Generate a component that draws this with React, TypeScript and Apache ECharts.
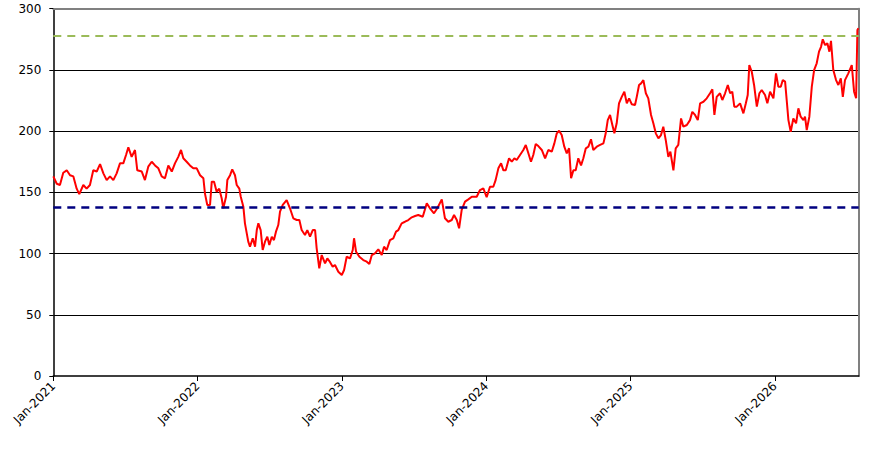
import React, { useEffect, useRef } from "react";
import * as echarts from "echarts";

const startYear = 2021;
const endYear = 2026.581;

const yearTicks = [2021, 2022, 2023, 2024, 2025, 2026];
const yTicks = [0, 50, 100, 150, 200, 250, 300];

const upperLevel = 278;
const lowerLevel = 138;

const yearsSince2021 = [
  0.0, 0.024, 0.046, 0.069, 0.093, 0.116, 0.139, 0.162, 0.18, 0.208, 0.231, 0.254, 0.277, 0.301, 0.324, 0.347,
  0.37, 0.393, 0.416, 0.439, 0.462, 0.485, 0.504, 0.52, 0.543, 0.566, 0.582, 0.613, 0.635, 0.658, 0.682, 0.705,
  0.728, 0.751, 0.774, 0.797, 0.821, 0.843, 0.866, 0.885, 0.901, 0.924, 0.947, 0.97, 0.994, 1.017,
  1.04, 1.051, 1.067, 1.086, 1.098, 1.114, 1.132, 1.15, 1.167, 1.178, 1.197, 1.206, 1.225, 1.24, 1.259, 1.271,
  1.289, 1.299, 1.317, 1.328, 1.351, 1.363, 1.382, 1.398, 1.41, 1.421, 1.437, 1.451, 1.467, 1.483, 1.497, 1.514,
  1.529, 1.543, 1.559, 1.571, 1.59, 1.617, 1.64, 1.663, 1.687, 1.705, 1.721, 1.744, 1.76, 1.779, 1.798, 1.814,
  1.825, 1.843, 1.86, 1.883, 1.899, 1.918, 1.936, 1.952, 1.975,
  1.999, 2.015, 2.033, 2.056, 2.075, 2.084, 2.098, 2.121, 2.148, 2.172, 2.19, 2.207, 2.229, 2.252, 2.276, 2.292,
  2.31, 2.333, 2.356, 2.375, 2.391, 2.414, 2.437, 2.46, 2.484, 2.507, 2.529, 2.56, 2.588, 2.61, 2.638, 2.661,
  2.692, 2.714, 2.737, 2.761, 2.777, 2.796, 2.812, 2.83, 2.853, 2.876, 2.9, 2.934, 2.957, 2.98, 3.003, 3.026,
  3.049, 3.065, 3.084, 3.103, 3.119, 3.135, 3.158, 3.177, 3.195, 3.211, 3.234, 3.257, 3.274, 3.292, 3.31, 3.326,
  3.343, 3.361, 3.385, 3.408, 3.43, 3.454, 3.472, 3.489, 3.505, 3.523, 3.541, 3.558, 3.574, 3.588, 3.604, 3.62,
  3.638, 3.657, 3.673, 3.69, 3.708, 3.726, 3.742, 3.766, 3.789, 3.812, 3.828, 3.842, 3.858, 3.874, 3.888, 3.904,
  3.92, 3.939, 3.957, 3.974, 3.99, 4.008, 4.031,
  4.043, 4.059, 4.073, 4.089, 4.106, 4.123, 4.142, 4.158, 4.175, 4.193, 4.211, 4.227, 4.244, 4.262, 4.276, 4.297,
  4.313, 4.331, 4.35, 4.366, 4.39, 4.412, 4.428, 4.447, 4.466, 4.482, 4.505, 4.528, 4.551, 4.567, 4.581, 4.597,
  4.62, 4.636, 4.655, 4.674, 4.69, 4.705, 4.719, 4.736, 4.759, 4.782, 4.799, 4.812, 4.823, 4.84, 4.856, 4.875,
  4.893, 4.909, 4.932,
  4.948, 4.967, 4.99, 5.008, 5.024, 5.041, 5.055, 5.071, 5.082, 5.094, 5.11, 5.128, 5.147, 5.163, 5.179, 5.198,
  5.209, 5.221, 5.239, 5.256, 5.272, 5.29, 5.306, 5.32, 5.332, 5.348, 5.364, 5.378, 5.389, 5.405, 5.424, 5.44,
  5.457, 5.471, 5.486, 5.509, 5.533, 5.549, 5.563, 5.572, 5.579,
];

const prices = [
  163, 157, 156, 166, 168, 164, 163, 153, 148.6, 156, 153, 156, 168, 167, 173, 165.5,
  160, 163, 160, 165.5, 173.7, 173.7, 180.5, 186.8, 179, 184.6, 168, 167, 160, 171, 175, 172,
  169.6, 163, 161.5, 172, 167, 173.7, 179, 184.6, 177.8, 175, 172, 169.6, 169.6, 164,
  161.5, 149, 139.7, 139.7, 158.7, 158.7, 150.5, 153, 145, 137, 146.4, 160, 164, 168.8, 164, 156,
  153, 146.4, 138.3, 124.7, 109.7, 105.6, 112.5, 105.6, 119.2, 124.7, 119.2, 102.9, 109.7, 113.8, 107, 113.8,
  111, 117.9, 123.3, 134.2, 139.7, 143.7, 137, 128.8, 127.4, 127.4, 119.2, 115.2, 119.2, 113.8, 119.2, 119.2,
  104.3, 88, 98.8, 92, 96, 93, 89.3, 90.7, 85.2,
  82.5, 86.6, 97.4, 96, 102.9, 112.5, 101.5, 97.4, 94.7, 93.4, 91.5, 98.8, 100.2, 103.5, 98.8, 105.6,
  102.9, 111, 112.5, 117.9, 119.2, 124.7, 126, 127.4, 129.6, 130.7, 131.5, 130.1, 141, 137, 132.9, 137,
  144.3, 128.8, 126, 127.4, 131.5, 127.4, 120.6, 135.6, 142.4, 144.3, 146.4, 146.4, 151.9, 153.3, 146, 154.6,
  154.6, 160, 169.6, 173.7, 168, 168, 177.8, 175, 177.8, 176.4, 180.5, 184.6, 188.7, 181.9, 175, 180.5,
  189.5, 187.8, 184.6, 177.8, 184.6, 183.2, 190, 198.2, 200.3, 196.8, 187.3, 181.9, 186, 161.5, 168, 168,
  177.8, 172, 177.8, 186, 187.3, 193.3, 184.6, 187.3, 188.7, 190, 198.2, 209, 213.2, 205, 198.2, 206.4,
  222.7, 228, 232.2, 222.7, 226.8, 222, 221.3,
  228, 237.7, 239, 241.7, 230.9, 226.8, 213.2, 206.4, 198.2, 194.1, 196.8, 203.6, 192.7, 179, 183.2, 168,
  186, 188.7, 210.4, 203.6, 205, 209, 215.8, 213.2, 209, 222.7, 224, 226.8, 230.9, 234.2, 213.2, 228,
  230.9, 225.4, 230.9, 237.7, 230.9, 232.2, 220, 220, 222.7, 214.5, 222.7, 229.5, 254, 248.5, 237.7, 220,
  230.9, 233.6, 229.5,
  222.7, 232.2, 226.8, 247.2, 236.3, 236.3, 241.7, 240.4, 225.4, 209, 199.5, 210.4, 206.4, 218.6, 211.8, 209,
  211.8, 200.9, 211.8, 236.3, 249.9, 255.4, 264.9, 268.9, 275, 270.3, 271.7, 264.9, 273.8, 249.9, 241.7, 237.7,
  243.1, 228, 241.7, 247.2, 254, 232.2, 226.8, 282.6, 284,
];

const FONT = "DejaVu Sans";

export default function App() {
  const ref = useRef<HTMLDivElement>(null);

  useEffect(() => {
    if (!ref.current) return;
    const chart = echarts.init(ref.current, undefined, { renderer: "svg" });
    const data = yearsSince2021.map((t, i) => [startYear + t, prices[i]]);

    chart.setOption({
      animation: false,
      backgroundColor: "#ffffff",
      grid: { left: 53.3, right: 24.3, top: 8.7, bottom: 73, containLabel: false },
      xAxis: [
        {
          type: "value",
          min: yearTicks[0],
          max: endYear,
          interval: 1,
          axisLine: { show: true, onZero: false, lineStyle: { color: "#000", width: 1.5 } },
          axisTick: { show: true, length: 5, lineStyle: { color: "#000", width: 1 } },
          axisLabel: {
            rotate: 45,
            margin: 8,
            color: "#000",
            fontFamily: FONT,
            fontSize: 12,
            showMaxLabel: false,
            formatter: (v: number) => (yearTicks.includes(v) ? "Jan-" + v : ""),
          },
          splitLine: { show: false },
        },
        {
          type: "value",
          position: "top",
          min: yearTicks[0],
          max: endYear,
          axisLine: { show: true, onZero: false, lineStyle: { color: "#808080", width: 2 } },
          axisTick: { show: false },
          axisLabel: { show: false },
          splitLine: { show: false },
        },
      ],
      yAxis: [
        {
          type: "value",
          min: yTicks[0],
          max: yTicks[yTicks.length - 1],
          interval: 50,
          axisLine: { show: true, onZero: false, lineStyle: { color: "#000", width: 1.5 } },
          axisTick: { show: true, length: 4, lineStyle: { color: "#000", width: 1 } },
          axisLabel: { margin: 12, color: "#000", fontFamily: FONT, fontSize: 12 },
          splitLine: { show: true, showMinLine: false, showMaxLine: false, lineStyle: { color: "#000", width: 1 } },
        },
        {
          type: "value",
          position: "right",
          min: yTicks[0],
          max: yTicks[yTicks.length - 1],
          axisLine: { show: true, onZero: false, lineStyle: { color: "#808080", width: 2 } },
          axisTick: { show: false },
          axisLabel: { show: false },
          splitLine: { show: false },
        },
      ],
      series: [
        {
          type: "line",
          data,
          showSymbol: false,
          symbol: "none",
          lineStyle: { color: "#ff0000", width: 2 },
          z: 3,
          markLine: {
            silent: true,
            symbol: ["none", "none"],
            label: { show: false },
            animation: false,
            data: [
              { yAxis: upperLevel, lineStyle: { color: "#9bbb59", width: 2, type: [8, 6] } },
              { yAxis: lowerLevel, lineStyle: { color: "#000080", width: 2.5, type: [8, 6] } },
            ],
          },
        },
      ],
    });

    return () => chart.dispose();
  }, []);

  return (
    <div
      ref={ref}
      style={{ position: "fixed", left: 0, top: 0, width: 883, height: 449, background: "#fff" }}
    />
  );
}
